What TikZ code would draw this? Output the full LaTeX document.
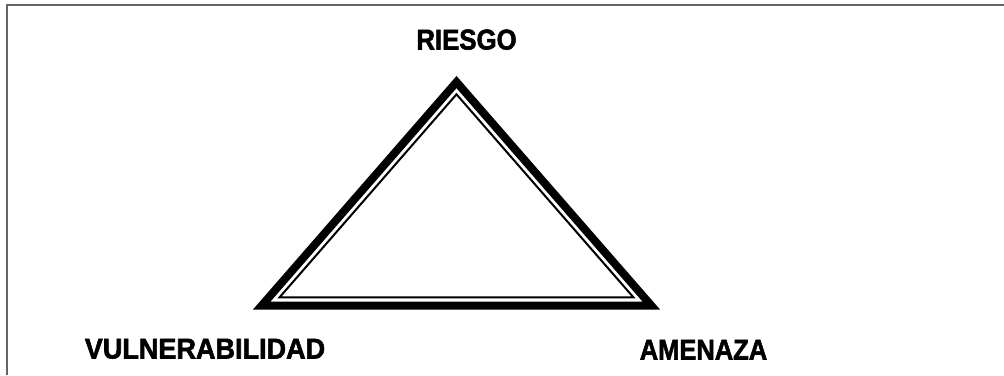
\documentclass[tikz,border=0pt]{standalone}
\usepackage{fontspec}
\setmainfont{Liberation Sans}
\newfontfamily\labelfont{Liberation Sans}[BoldFeatures={FakeBold=2}]
\usepackage{tikz}
\usetikzlibrary{calc}
\definecolor{framegray}{RGB}{100,100,100}
\tikzset{
  frameline/.style={draw=framegray, line width=0.04cm},
  outerline/.style={line width=0.16cm, line join=miter},
  innerline/.style={line width=0.04cm, line join=miter},
  vertexlabel/.style={anchor=base, inner sep=0pt, font=\labelfont\fontsize{16.3}{18}\selectfont\bfseries}
}

\begin{document}
\begin{tikzpicture}
\useasboundingbox (0,0) rectangle (20.08,7.5);
% frame (only top and left edges show)
\draw[frameline] (0.13,0) -- (0.13,7.39) -- (20.08,7.39);
% triangle corners and centre
\coordinate (top) at (9.13,5.98);
\coordinate (left) at (5.06,1.31);
\coordinate (right) at (13.20,1.31);
\coordinate (mid) at (9.13,3.162);
\draw[outerline] ($(mid)!0.957!(top)$) -- ($(mid)!0.957!(left)$) -- ($(mid)!0.957!(right)$) -- cycle;
\draw[innerline] ($(mid)!0.870!(top)$) -- ($(mid)!0.870!(left)$) -- ($(mid)!0.870!(right)$) -- cycle;
% labels
\node[vertexlabel] (riesgo) at (9.33,6.51) {\scalebox{0.9}[1]{RIESGO}};
\node[vertexlabel] (vulnerabilidad) at (4.10,0.33) {\scalebox{0.944}[1]{VULNERABILIDAD}};
\node[vertexlabel] (amenaza) at (14.07,0.31) {\scalebox{0.89}[1]{AMENAZA}};
\end{tikzpicture}
\end{document}
